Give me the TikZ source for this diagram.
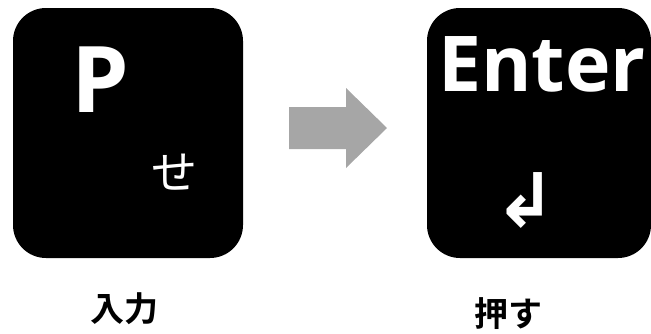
\documentclass[tikz,border=0pt]{standalone}
\usepackage{fontspec}
\setmainfont{Open Sans}
\newfontfamily\jpfont{Noto Sans CJK JP}
\newfontfamily\jpbold{Noto Sans CJK JP}[BoldFont={* Bold}]
\newfontfamily\symfont{DejaVu Sans}
\begin{document}
\begin{tikzpicture}[x=1pt,y=-1pt,
  keybox/.style={fill=black, rounded corners=33pt},
  keytext/.style={text=white, inner sep=0pt},
  label/.style={text=black, inner sep=0pt, font=\jpbold\bfseries\fontsize{34}{34}\selectfont}]
\useasboundingbox (0,0) rectangle (651,333);
\fill[keybox] (13,8) rectangle (243,258);
\fill[keybox] (427,8) rectangle (651,258);
\node[keytext, font=\bfseries\fontsize{92}{92}\selectfont] (p) at (100,80) {P};
\node[keytext, font=\jpfont\fontsize{46}{46}\selectfont] (se) at (174,172) {せ};
\node[keytext, font=\bfseries\fontsize{77}{77}\selectfont] (enter) at (542,64) {Enter};
\node[keytext, font=\symfont\bfseries\fontsize{74}{74}\selectfont] (ret) at (525,200) {↲};
\fill[gray!70] (289,107) -- (346,107) -- (346,88) -- (387,128) -- (346,168) -- (346,149) -- (289,149) -- cycle;
\node[label] (in) at (124,309) {入力};
\node[label] (push) at (508,314) {押す};
\end{tikzpicture}
\end{document}
